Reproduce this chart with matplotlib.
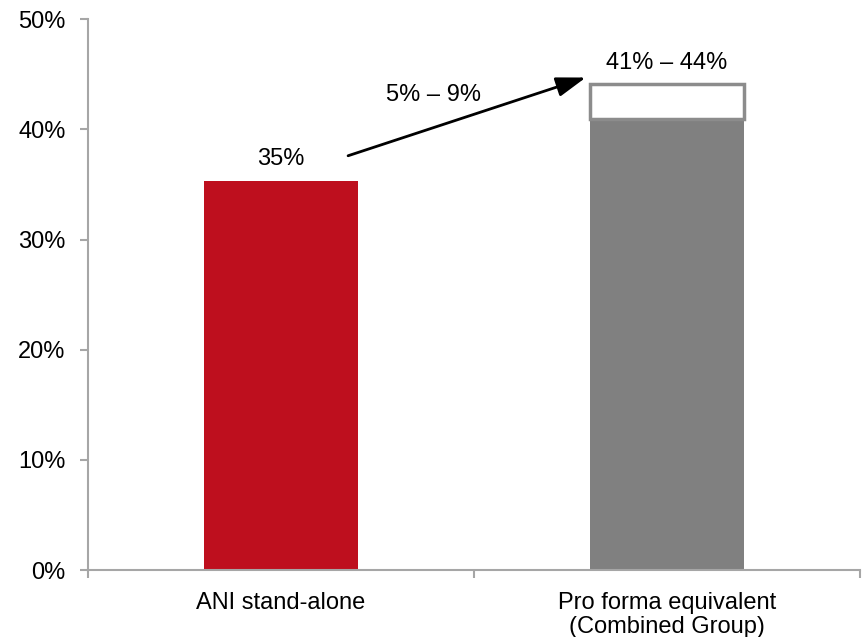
import matplotlib
matplotlib.use("Agg")
import matplotlib.pyplot as plt
from matplotlib.ticker import FuncFormatter

plt.rcParams["font.family"] = ["Liberation Sans", "DejaVu Sans"]

# dados
categorias = ["ANI stand-alone", "Pro forma equivalent\n(Combined Group)"]
valores = [35.3, 40.9]          # base de cada barra (%)
faixa_topo = 44.1               # topo da faixa do pro forma (%)
rotulos = ["35%", "41% \u2013 44%"]
rotulo_seta = "5% \u2013 9%"
yticks = [0, 10, 20, 30, 40, 50]

VERMELHO, CINZA, EIXO = "#BE0F1E", "#808080", "#A6A6A6"
FS = 17

fig = plt.figure(figsize=(8.65, 6.37), dpi=100)
ax = fig.add_axes([0.1017, 0.105, 0.8923, 0.865])

x = list(range(len(categorias)))
ax.bar(x, valores, width=0.4, color=[VERMELHO, CINZA], zorder=2)
# faixa 41%-44% como caixa vazada em cima da barra cinza
ax.bar(x[1], faixa_topo - valores[1], bottom=valores[1], width=0.4,
       facecolor="white", edgecolor="#8C8C8C", linewidth=2.5, zorder=3)

ax.text(x[0], valores[0] + 2.0, rotulos[0], ha="center", va="center", fontsize=FS)
ax.text(x[1], faixa_topo + 1.9, rotulos[1], ha="center", va="center", fontsize=FS)
ax.annotate("", xy=(0.79, 44.7), xytext=(0.174, 37.6),
            arrowprops=dict(arrowstyle="-|>,head_length=0.9,head_width=0.3",
                            mutation_scale=20, shrinkA=0, shrinkB=0,
                            color="black", lw=2))
ax.text(0.396, 43.1, rotulo_seta, ha="center", va="center", fontsize=FS)

ax.set_xlim(-0.5, 1.5)
ax.set_ylim(0, 50)
ax.set_yticks(yticks)
ax.yaxis.set_major_formatter(FuncFormatter(lambda v, _: f"{v:.0f}%"))
ax.set_xticks(x)
ax.set_xticklabels(categorias, fontsize=FS, linespacing=1.1)
ax.set_xticks([-0.5, 0.5, 1.5], minor=True)
ax.tick_params(axis="x", which="major", length=0, pad=16)
ax.tick_params(axis="x", which="minor", length=6, color=EIXO, width=1.5)
ax.tick_params(axis="y", labelsize=FS, length=6, color=EIXO, width=1.5, pad=10)
for s in ["top", "right"]:
    ax.spines[s].set_visible(False)
for s in ["left", "bottom"]:
    ax.spines[s].set_color(EIXO)
    ax.spines[s].set_linewidth(1.5)

plt.savefig("out.png", dpi=100)
plt.close()
